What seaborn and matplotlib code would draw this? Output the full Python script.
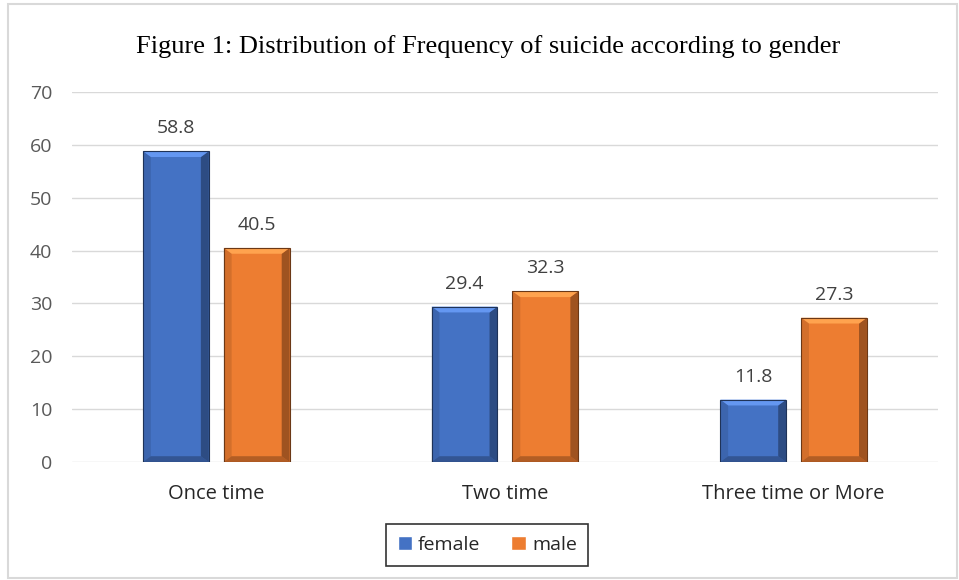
import numpy as np
import pandas as pd
import seaborn as sns
import matplotlib.pyplot as plt
from matplotlib.patches import Rectangle, Polygon

# data
categories = ['Once time', 'Two time', 'Three time or More']
female = [58.8, 29.4, 11.8]
male = [40.5, 32.3, 27.3]
genders = ['female', 'male']
colors = {'female': '#4472C4', 'male': '#ED7D31'}

df = pd.DataFrame({
    'category': categories * 2,
    'gender': ['female'] * 3 + ['male'] * 3,
    'value': female + male,
})

sns.set_style('white')
plt.rcParams['font.family'] = ['Open Sans', 'DejaVu Sans']

fig = plt.figure(figsize=(9.59, 5.8), dpi=100)
ax = fig.add_axes([0.075, 0.2034, 0.903, 0.638])

sns.barplot(data=df, x='category', y='value', hue='gender', order=categories,
            hue_order=genders, palette=colors, saturation=1, width=0.56, gap=0.185,
            ax=ax, legend=True, edgecolor='none', linewidth=0)

# fake bevel on each bar, built from the bar geometry
for c in ax.containers:
    for p in c.patches:
        x0, y0 = p.get_x(), p.get_y()
        w, h = p.get_width(), p.get_height()
        bw = w * 0.12
        bh = 1.1
        base = p.get_facecolor()
        dark = tuple(v * 0.45 for v in base[:3])
        light = tuple(min(1, v * 1.1 + 0.1) for v in base[:3])
        ax.add_patch(Polygon([(x0 + w, y0), (x0 + w, y0 + h), (x0 + w - bw, y0 + h - bh),
                              (x0 + w - bw, y0 + bh)], closed=True, facecolor=dark,
                             edgecolor='none', alpha=0.6, zorder=3))
        ax.add_patch(Polygon([(x0, y0 + h), (x0 + w, y0 + h), (x0 + w - bw, y0 + h - bh),
                              (x0 + bw, y0 + h - bh)], closed=True, facecolor=light,
                             edgecolor='none', zorder=3))
        ax.add_patch(Polygon([(x0, y0), (x0 + w, y0), (x0 + w - bw, y0 + bh),
                              (x0 + bw, y0 + bh)], closed=True, facecolor=dark,
                             edgecolor='none', alpha=0.45, zorder=3))
        ax.add_patch(Polygon([(x0, y0), (x0, y0 + h), (x0 + bw, y0 + h - bh),
                              (x0 + bw, y0 + bh)], closed=True, facecolor=dark,
                             edgecolor='none', alpha=0.2, zorder=3))
        ax.add_patch(Rectangle((x0, y0), w, h, fill=False, edgecolor=dark,
                               linewidth=0.8, zorder=4))
    ax.bar_label(c, fmt='%.1f', padding=10, fontsize=14, color='#404040')

ax.set_ylim(0, 70)
ax.set_yticks(np.arange(0, 71, 10))
ax.yaxis.grid(True, color='#D9D9D9', linewidth=1)
ax.set_axisbelow(True)
for s in ax.spines.values():
    s.set_visible(False)
ax.tick_params(axis='both', length=0, labelsize=14, labelcolor='#595959')
ax.tick_params(axis='y', pad=14)
ax.tick_params(axis='x', pad=16, labelsize=14.5, labelcolor='#262626')
ax.set_xlabel('')
ax.set_ylabel('')

fig.suptitle('Figure 1: Distribution of Frequency of suicide according to gender',
             family='Liberation Serif', fontsize=19, x=0.509, y=0.94, color='black')

handles = [Rectangle((0, 0), 1, 1, facecolor=colors[g]) for g in genders]
leg = ax.legend(handles, genders, loc='center', bbox_to_anchor=(0.508, 0.0603),
                bbox_transform=fig.transFigure, ncol=2, frameon=True, fancybox=False,
                fontsize=14, handlelength=0.75, handleheight=0.75, handletextpad=0.3,
                columnspacing=1.6, borderpad=0.6)
leg.get_frame().set_edgecolor('black')
leg.get_frame().set_linewidth(1.2)

fig.patches.append(Rectangle((0.008, 0.003), 0.99, 0.99, transform=fig.transFigure,
                             fill=False, edgecolor='#D9D9D9', linewidth=1.5))

fig.savefig('out.png', dpi=100)
